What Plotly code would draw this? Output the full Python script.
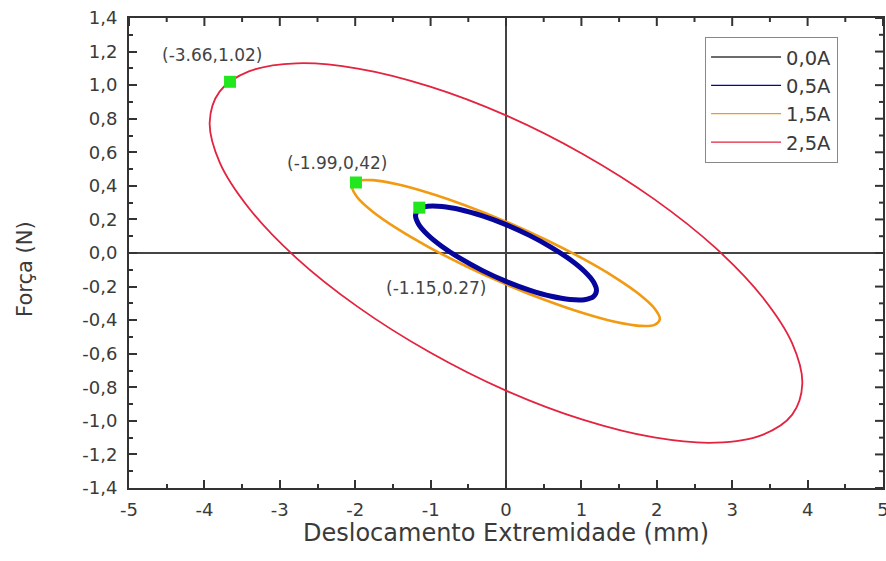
import plotly.graph_objects as go

# Hysteresis loops: tip displacement (mm) vs force (N) for each coil current
currents = ["0,0A", "0,5A", "1,5A", "2,5A"]

x_05A = [0, 0.311, 0.6, 0.849, 1.039, 1.159, 1.2, 1.159, 1.039, 0.849, 0.6, 0.311,
         0, -0.311, -0.6, -0.849, -1.039, -1.159, -1.2, -1.159, -1.039, -0.849, -0.6, -0.311, 0]
y_05A = [0.169, 0.105, 0.034, -0.039, -0.109, -0.172, -0.224, -0.260, -0.278, -0.277, -0.258, -0.221,
         -0.169, -0.105, -0.034, 0.039, 0.109, 0.172, 0.224, 0.260, 0.278, 0.277, 0.258, 0.221, 0.169]

x_15A = [0, 0.528, 1.02, 1.443, 1.767, 1.970, 2.04, 1.970, 1.767, 1.443, 1.02, 0.528,
         0, -0.528, -1.02, -1.443, -1.767, -1.970, -2.04, -1.970, -1.767, -1.443, -1.02, -0.528, 0]
y_15A = [0.187, 0.079, -0.034, -0.145, -0.246, -0.331, -0.393, -0.428, -0.434, -0.410, -0.358, -0.282,
         -0.187, -0.079, 0.034, 0.145, 0.246, 0.331, 0.393, 0.428, 0.434, 0.410, 0.358, 0.282, 0.187]

x_25A = [0, 1.017, 1.965, 2.779, 3.403, 3.796, 3.93, 3.796, 3.403, 2.779, 1.965, 1.017,
         0, -1.017, -1.965, -2.779, -3.403, -3.796, -3.93, -3.796, -3.403, -2.779, -1.965, -1.017, 0]
y_25A = [0.820, 0.590, 0.321, 0.030, -0.264, -0.539, -0.778, -0.963, -1.083, -1.130, -1.099, -0.993,
         -0.820, -0.590, -0.321, -0.030, 0.264, 0.539, 0.778, 0.963, 1.083, 1.130, 1.099, 0.993, 0.820]

# Highlighted peak points and their labels
peak_x = [-3.66, -1.99, -1.15]
peak_y = [1.02, 0.42, 0.27]
peak_labels = ["(-3.66,1.02)", "(-1.99,0,42)", "(-1.15,0.27)"]

x_range = [-5, 5]
y_range = [-1.4, 1.4]
x_tickvals = [-5, -4, -3, -2, -1, 0, 1, 2, 3, 4, 5]
x_ticktext = ["-5", "-4", "-3", "-2", "-1", "0", "1", "2", "3", "4", "5"]
y_tickvals = [-1.4, -1.2, -1.0, -0.8, -0.6, -0.4, -0.2, 0.0, 0.2, 0.4, 0.6, 0.8, 1.0, 1.2, 1.4]
y_ticktext = ["-1,4", "-1,2", "-1,0", "-0,8", "-0,6", "-0,4", "-0,2", "0,0",
              "0,2", "0,4", "0,6", "0,8", "1,0", "1,2", "1,4"]
x_minorvals = [-4.5, -3.5, -2.5, -1.5, -0.5, 0.5, 1.5, 2.5, 3.5, 4.5]
y_minorvals = [-1.3, -1.1, -0.9, -0.7, -0.5, -0.3, -0.1, 0.1, 0.3, 0.5, 0.7, 0.9, 1.1, 1.3]

FONT = "DejaVu Sans"
AXC = "#333333"
colors = {"0,0A": "#3a3a3a", "0,5A": "#06069C", "1,5A": "#F29A12", "2,5A": "#E3233F"}

W, H = 886, 561
MARGIN = dict(l=129, r=3, t=18, b=73)
plot_w = W - MARGIN["l"] - MARGIN["r"]
plot_h = H - MARGIN["t"] - MARGIN["b"]

fig = go.Figure()

# loops (drawn largest first)
fig.add_trace(go.Scatter(x=x_25A, y=y_25A, mode="lines", line=dict(color=colors["2,5A"], width=1.8, shape="spline"),
                         showlegend=False, hoverinfo="skip"))
fig.add_trace(go.Scatter(x=x_15A, y=y_15A, mode="lines", line=dict(color=colors["1,5A"], width=2.6, shape="spline"),
                         showlegend=False, hoverinfo="skip"))
fig.add_trace(go.Scatter(x=x_05A, y=y_05A, mode="lines", line=dict(color=colors["0,5A"], width=5, shape="spline"),
                         showlegend=False, hoverinfo="skip"))

# peak markers
fig.add_trace(go.Scatter(x=peak_x, y=peak_y, mode="markers",
                         marker=dict(symbol="square", size=12, color="#22E61E"),
                         showlegend=False, hoverinfo="skip"))

# legend entries (thin sample lines)
for name in currents:
    fig.add_trace(go.Scatter(x=[None], y=[None], mode="lines", name=name, legendgroup=name,
                             line=dict(color=colors[name], width=1.3)))

# inward ticks along the top and right frame edges (paper-referenced, lengths in px)
tick_line = dict(color=AXC, width=2)
for vals, length in ((x_tickvals, 8), (x_minorvals, 4)):
    for v in vals:
        fig.add_shape(type="line", xref="x", yref="paper", x0=v, x1=v,
                      y0=1, y1=1 - length / plot_h, line=tick_line, layer="above")
for vals, length in ((y_tickvals, 8), (y_minorvals, 4)):
    for v in vals:
        fig.add_shape(type="line", xref="paper", yref="y", y0=v, y1=v,
                      x0=1, x1=1 - length / plot_w, line=tick_line, layer="above")

# invisible carrier for the minor-tick axes
fig.add_trace(go.Scatter(x=[None], y=[None], xaxis="x2", yaxis="y2", showlegend=False, hoverinfo="skip"))

shifts = [(-18, 27), (-18, 20), (17, -80)]
for (px, py, txt), (dx, dy) in zip(zip(peak_x, peak_y, peak_labels), shifts):
    fig.add_annotation(x=px, y=py, text=txt, showarrow=False, xshift=dx, yshift=dy,
                       font=dict(family=FONT, size=17, color="#444444"))

# axis titles
fig.add_annotation(xref="paper", yref="paper", x=0.5, y=-0.0957, text="Deslocamento Extremidade (mm)",
                   showarrow=False, xanchor="center", yanchor="middle",
                   font=dict(family=FONT, size=24, color="#3a3a3a"))
fig.add_annotation(xref="paper", yref="paper", x=-0.138, y=0.466, text="Força (N)", textangle=-90,
                   showarrow=False, xanchor="center", yanchor="middle",
                   font=dict(family=FONT, size=21, color="#3a3a3a"))

axis_common = dict(showline=True, linecolor=AXC, linewidth=2, mirror=True,
                   ticks="inside", ticklen=8, tickwidth=2, tickcolor=AXC, showgrid=False,
                   zeroline=True, zerolinecolor="#444444", zerolinewidth=2,
                   ticklabeloverflow="allow", automargin=False,
                   tickfont=dict(family=FONT, size=18, color="#3a3a3a"))
minor_common = dict(showline=False, ticks="inside", ticklen=4, tickwidth=2, tickcolor=AXC, showgrid=False,
                    zeroline=False, showticklabels=False, automargin=False)

fig.update_layout(
    xaxis=dict(range=x_range, tickmode="array", tickvals=x_tickvals, ticktext=x_ticktext,
               ticklabelstandoff=4, **axis_common),
    yaxis=dict(range=y_range, tickmode="array", tickvals=y_tickvals, ticktext=y_ticktext,
               ticklabelstandoff=6, **axis_common),
    xaxis2=dict(range=x_range, overlaying="x", side="bottom", anchor="y2", tickmode="array",
                tickvals=x_minorvals, **minor_common),
    yaxis2=dict(range=y_range, overlaying="y", side="left", anchor="x2", tickmode="array",
                tickvals=y_minorvals, **minor_common),
)

fig.update_layout(
    width=W, height=H,
    margin=dict(**MARGIN, autoexpand=False),
    paper_bgcolor="white", plot_bgcolor="white",
    font=dict(family=FONT, color="#3a3a3a"),
    legend=dict(x=0.764, y=0.96, xanchor="left", yanchor="top",
                bordercolor="#888888", borderwidth=1, bgcolor="white",
                font=dict(family=FONT, size=19.5, color="#3a3a3a"),
                itemwidth=70, tracegroupgap=0),
)

fig.write_html("out.html")
